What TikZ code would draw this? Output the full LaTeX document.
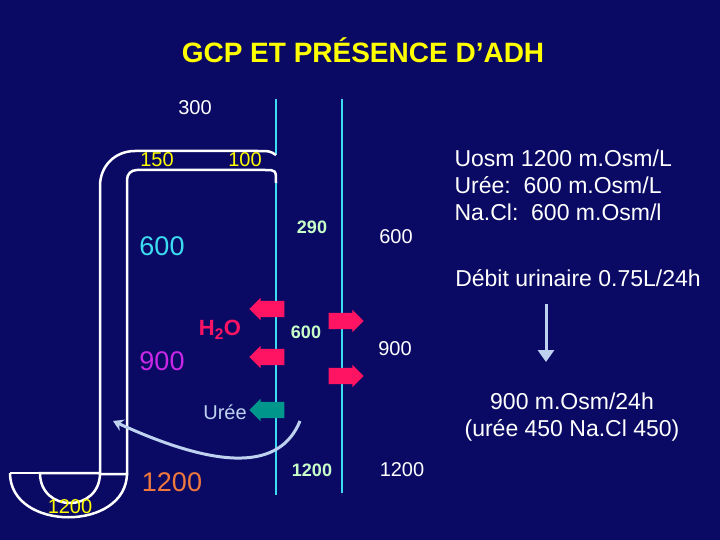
\documentclass[tikz,border=0pt]{standalone}
\usepackage{fontspec}
\setmainfont{Liberation Sans}
\usetikzlibrary{shapes.arrows, arrows.meta}
\definecolor{bg}{RGB}{10,10,100}
\definecolor{ttl}{RGB}{255,255,0}
\definecolor{cya}{RGB}{60,220,240}
\definecolor{lgr}{RGB}{200,255,200}
\definecolor{pnk}{RGB}{255,20,100}
\definecolor{tea}{RGB}{0,150,140}
\definecolor{mag}{RGB}{200,40,230}
\definecolor{org}{RGB}{240,120,60}
\definecolor{lbl}{RGB}{190,210,240}
\tikzset{
  tube/.style={white, line width=2.5pt},
  wall/.style={cya, line width=2.5pt},
  big/.style={font=\fontsize{27}{27}\selectfont},
  sm/.style={font=\fontsize{20}{20}\selectfont},
  bnum/.style={lgr, font=\bfseries\fontsize{18}{18}\selectfont},
  info/.style={white, font=\fontsize{23}{27}\selectfont},
  flux/.style={single arrow, fill=#1, inner sep=0pt, minimum height=35pt,
    single arrow head extend=3pt, draw=none}
}
\begin{document}
\begin{tikzpicture}[x=1pt,y=-1pt]
\fill[bg] (0,0) rectangle (720,540);
\node[ttl, font=\bfseries\fontsize{28}{28}\selectfont] (title) at (363,50) {GCP ET PRÉSENCE D’ADH};
% walls of the collecting duct
\draw[wall] (276,99) -- (276,155);
\draw[wall] (276,183) -- (276,495);
\draw[wall] (342,99) -- (342,493);
% loop
\draw[tube] (276,155) .. controls (270,151) .. (255,151) -- (135,151)
  .. controls (115,151) and (100,166) .. (100,186) -- (100,473) -- (40,473)
  .. controls (40,513) and (100,513) .. (100,473);
\draw[tube] (276,183) .. controls (276,170) .. (265,170) -- (137,170)
  .. controls (131,170) and (127,174) .. (127,180) -- (127,474) -- (100,474);
\draw[tube] (10,473) -- (40,473);
\draw[tube] (10,473) .. controls (10,532) and (127,532) .. (127,473);
% labels
\node[white, sm] (t300) at (195,108) {300};
\node[ttl, sm] (t150) at (157,160) {150};
\node[ttl, sm] (t100) at (245,160) {100};
\node[cya, big] (t600) at (162,246) {600};
\node[mag, big] (t900) at (162,361) {900};
\node[org, big] (t1200) at (172,482) {1200};
\node[ttl, sm] (b1200) at (70,507) {1200};
\node[bnum] (d290) at (312,227) {290};
\node[bnum] (d600) at (306,332) {600};
\node[bnum] (d1200) at (312,470) {1200};
\node[white, sm] (i600) at (396,237) {600};
\node[white, sm] (i900) at (395,349) {900};
\node[white, sm] (i1200) at (402,470) {1200};
\node[pnk, font=\bfseries\fontsize{22}{22}\selectfont] (water) at (220,330) {H$_\mathbf{2}$O};
\node[lbl, sm] (uree) at (225,412) {Urée};
% fluxes
\node[flux=pnk, shape border rotate=180] (w1) at (271,309) {\rule{0pt}{16pt}};
\node[flux=pnk, shape border rotate=180] (w2) at (271,357) {\rule{0pt}{16pt}};
\node[flux=pnk] (w3) at (342,321) {\rule{0pt}{16pt}};
\node[flux=pnk] (w4) at (342,376) {\rule{0pt}{16pt}};
\node[flux=tea, shape border rotate=180] (u1) at (271,410) {\rule{0pt}{16pt}};
% urea recycling
\coordinate (ustart) at (300,421);
\coordinate (uend) at (113,421);
\draw[lbl, line width=3pt, -{Stealth[length=10pt,width=12pt]}] (ustart) .. controls (280,470) and (220,470) .. (uend);
% right text
\node[info, align=left, anchor=north west] (uosm) at (451,146) {Uosm 1200 m.Osm/L\\Urée:\ \ 600 m.Osm/L\\Na.Cl:\ \ 600 m.Osm/l};
\node[info] (debit) at (578,278) {Débit urinaire 0.75L/24h};
\node[info, align=center] (out) at (572,417) {900 m.Osm/24h\\(urée 450 Na.Cl 450)};
\coordinate (dtop) at (546,304);
\coordinate (dbot) at (546,362);
\draw[lbl, line width=3pt, -{Triangle[length=12pt,width=16pt]}] (dtop) -- (dbot);
\end{tikzpicture}
\end{document}
